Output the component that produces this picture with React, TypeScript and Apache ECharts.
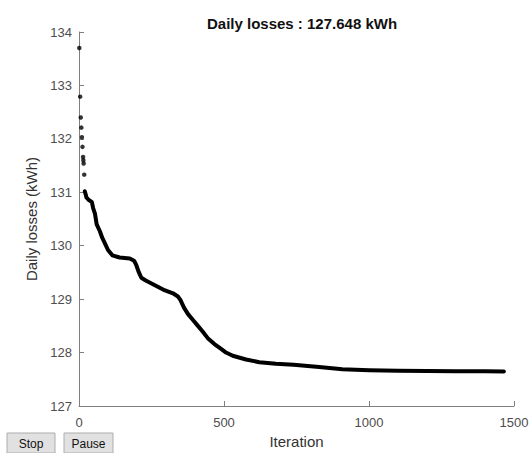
import React, { useEffect, useRef } from 'react';
import * as echarts from 'echarts';

// First few iterations: isolated improvements, drawn as separate dots
const earlyIterations = [1, 4, 6, 8, 10, 12, 14, 15, 16, 18];
const earlyLosses = [133.7, 132.79, 132.4, 132.21, 132.03, 131.85, 131.66, 131.6, 131.54, 131.33];

// Dense convergence trace
const curveIterations = [
  20, 26, 35, 44, 49, 55, 61, 72, 80, 89, 100, 115, 140, 175, 190, 198, 205, 215, 230, 255,
  290, 324, 341, 350, 362, 376, 393, 410, 427, 444, 467, 490, 507, 530, 576, 622, 679, 740,
  828, 908, 1000, 1100, 1200, 1300, 1400, 1465,
];
const curveLosses = [
  131.02, 130.9, 130.85, 130.82, 130.7, 130.6, 130.4, 130.27, 130.15, 130.05, 129.92, 129.82,
  129.78, 129.76, 129.72, 129.63, 129.52, 129.4, 129.35, 129.28, 129.18, 129.11, 129.05,
  128.98, 128.84, 128.72, 128.61, 128.5, 128.39, 128.27, 128.16, 128.07, 128.0, 127.94,
  127.87, 127.82, 127.79, 127.77, 127.73, 127.69, 127.67, 127.66, 127.655, 127.652, 127.65,
  127.648,
];

const xRange = [0, 1500];
const xStep = 500;
const yRange = [127, 134];
const yStep = 1;
const finalLoss = 127.648;

const FONT = '"Liberation Sans", Arial, Helvetica, sans-serif';

function button(label: string, x: number, width: number) {
  return {
    type: 'group',
    children: [
      {
        type: 'rect',
        shape: { x, y: 433, width, height: 20 },
        style: { fill: '#e1e1e1', stroke: '#adadad', lineWidth: 1 },
      },
      {
        type: 'text',
        x: x + width / 2,
        y: 444,
        style: {
          text: label,
          fill: '#111',
          font: `12px ${FONT}`,
          textAlign: 'center',
          textVerticalAlign: 'middle',
        },
      },
    ],
  };
}

export default function App() {
  const ref = useRef<HTMLDivElement>(null);

  useEffect(() => {
    document.body.style.margin = '0';
    const chart = echarts.init(ref.current!, null, { renderer: 'svg' });
    const axisColor = '#7f7f7f';
    const labelColor = '#4d4d4d';

    chart.setOption({
      animation: false,
      backgroundColor: '#ffffff',
      title: {
        text: `Daily losses : ${finalLoss.toFixed(3)} kWh`,
        left: 297,
        top: 11,
        textAlign: 'center',
        textStyle: { fontFamily: FONT, fontSize: 15, fontWeight: 'bold', color: '#111' },
      },
      grid: { left: 79, right: 15, top: 32, bottom: 47, containLabel: false, outerBoundsMode: 'none' },
      xAxis: {
        type: 'value',
        min: xRange[0],
        max: xRange[1],
        interval: xStep,
        name: 'Iteration',
        nameLocation: 'middle',
        nameGap: 26,
        nameTextStyle: { fontFamily: FONT, fontSize: 15, color: '#333' },
        axisLine: { show: true, lineStyle: { color: axisColor, width: 1 } },
        axisTick: { show: true, inside: true, length: 5, lineStyle: { color: axisColor } },
        axisLabel: {
          color: labelColor,
          fontFamily: FONT,
          fontSize: 13,
          margin: 10,
          showMaxLabel: true,
          showMinLabel: true,
          formatter: (v: number) => String(v),
        },
        splitLine: { show: false },
      },
      yAxis: {
        type: 'value',
        min: yRange[0],
        max: yRange[1],
        interval: yStep,
        name: 'Daily losses (kWh)',
        nameLocation: 'middle',
        nameGap: 27,
        nameRotate: 90,
        nameTextStyle: { fontFamily: FONT, fontSize: 15, color: '#333' },
        axisLine: { show: true, lineStyle: { color: axisColor, width: 1 } },
        axisTick: { show: true, inside: true, length: 5, lineStyle: { color: axisColor } },
        axisLabel: {
          color: labelColor,
          fontFamily: FONT,
          fontSize: 13,
          margin: 7,
          showMaxLabel: true,
          showMinLabel: true,
          formatter: (v: number) => String(v),
        },
        splitLine: { show: false },
      },
      series: [
        {
          type: 'scatter',
          data: earlyIterations.map((it, i) => [it, earlyLosses[i]]),
          symbol: 'circle',
          symbolSize: 4.5,
          itemStyle: { color: '#000' },
        },
        {
          type: 'line',
          data: curveIterations.map((it, i) => [it, curveLosses[i]]),
          showSymbol: false,
          lineStyle: { color: '#000', width: 4, join: 'round', cap: 'round' },
        },
      ],
      graphic: [button('Stop', 7, 48), button('Pause', 64, 49)],
    });

    return () => chart.dispose();
  }, []);

  return <div ref={ref} style={{ width: 529, height: 453, background: '#fff' }} />;
}
